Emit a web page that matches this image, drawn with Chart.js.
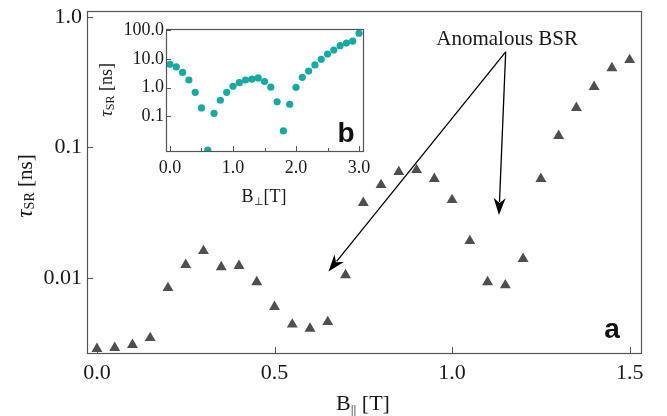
<!DOCTYPE html>
<html>
<head>
<meta charset="utf-8">
<script src="https://cdn.jsdelivr.net/npm/chart.js@4.4.0/dist/chart.umd.min.js"></script>
<style>
  html, body { margin: 0; padding: 0; background: #fff; }
  #wrap { position: relative; width: 667px; height: 416px; }
  #wrap canvas { position: absolute; left: 0; top: 0; }
</style>
</head>
<body>
<div id="wrap">
  <canvas id="mainChart" width="667" height="416"></canvas>
  <canvas id="insetChart" width="667" height="416"></canvas>
</div>
<script>
// Panel a: tau_SR vs in-plane field
const bParallel = [0.00, 0.05, 0.10, 0.15, 0.20, 0.25, 0.30, 0.35, 0.40, 0.45,
                   0.50, 0.55, 0.60, 0.65, 0.70, 0.75, 0.80, 0.85, 0.90, 0.95,
                   1.00, 1.05, 1.10, 1.15, 1.20, 1.25, 1.30, 1.35, 1.40, 1.45, 1.50];
const tauParallel = [0.00286, 0.00291, 0.00307, 0.00347, 0.00838, 0.0126, 0.0161, 0.0121, 0.0124, 0.0093,
                     0.0060, 0.0044, 0.0041, 0.0046, 0.0105, 0.0376, 0.0516, 0.0649, 0.0672, 0.0574,
                     0.0396, 0.0192, 0.0093, 0.0088, 0.0140, 0.0574, 0.1225, 0.201, 0.291, 0.406, 0.468];
const mainXTicks = [0.0, 0.5, 1.0, 1.5];
const mainYTicks = [0.01, 0.1, 1.0];

// Panel b (inset): tau_SR vs perpendicular field
const bPerp = [0.0, 0.1, 0.2, 0.3, 0.4, 0.5, 0.6, 0.7, 0.8, 0.9,
               1.0, 1.1, 1.2, 1.3, 1.4, 1.5, 1.6, 1.7, 1.8, 1.9,
               2.0, 2.1, 2.2, 2.3, 2.4, 2.5, 2.6, 2.7, 2.8, 2.9, 3.0];
const tauPerp = [6.5, 5.3, 3.4, 1.85, 0.69, 0.196, 0.0066, 0.128, 0.364, 0.69,
                 1.12, 1.49, 1.85, 2.0, 2.18, 1.64, 1.04, 0.32, 0.031, 0.264,
                 1.03, 2.3, 3.8, 6.2, 9.8, 14.9, 20.6, 29, 36, 42, 79];
const insetXTicks = [0, 1, 2, 3];
const insetXMinor = [0.5, 1.5, 2.5];
const insetYTicks = [0.1, 1, 10, 100];

// annotation: "Anomalous BSR" with two arrows (data coords)
const noteText = 'Anomalous BSR';
const noteAt = { x: 1.155, y: 0.60 };
const arrowFrom = { x: 1.151, y: 0.54 };
const arrowTips = [{ x: 0.652, y: 0.0112 }, { x: 1.132, y: 0.0304 }];

const SERIF = '"Liberation Serif", "Times New Roman", serif';
const SANS = '"Liberation Sans", Arial, sans-serif';
const INK = '#1a1a1a';
const FRAME = '#555';

function fixedTicks(values) {
    return function (scale) {
        scale.ticks = values.map(v => ({ value: v }));
    };
}

// fixed axis size, and no extra room for overhanging labels
function fitX(h) {
    return function (scale) {
        scale.height = h;
        scale.paddingLeft = 0; scale.paddingRight = 0;
        scale.paddingTop = 0; scale.paddingBottom = 0;
    };
}
function fitY(w) {
    return function (scale) {
        scale.width = w;
        scale.paddingLeft = 0; scale.paddingRight = 0;
        scale.paddingTop = 0; scale.paddingBottom = 0;
    };
}

function inwardTicks(chart, axis, values, len) {
    const ctx = chart.ctx, a = chart.chartArea, s = chart.scales[axis];
    ctx.save();
    ctx.strokeStyle = FRAME;
    ctx.lineWidth = 1;
    values.forEach(v => {
        const p = Math.round(s.getPixelForValue(v)) + 0.5;
        ctx.beginPath();
        if (axis === 'x') { ctx.moveTo(p, a.bottom); ctx.lineTo(p, a.bottom - len); }
        else { ctx.moveTo(a.left, p); ctx.lineTo(a.left + len, p); }
        ctx.stroke();
    });
    ctx.restore();
}

function frame(chart) {
    const ctx = chart.ctx, a = chart.chartArea;
    ctx.save();
    ctx.strokeStyle = FRAME;
    ctx.lineWidth = 1.2;
    ctx.strokeRect(Math.round(a.left) + 0.5, Math.round(a.top) + 0.5,
                   Math.round(a.right - a.left), Math.round(a.bottom - a.top));
    ctx.restore();
}

// text made of pieces (for subscripts), centred on x
function drawRich(ctx, parts, x, y, rotate) {
    ctx.save();
    ctx.translate(x, y);
    if (rotate) ctx.rotate(-Math.PI / 2);
    let total = 0;
    parts.forEach(p => { ctx.font = p.font; p.w = ctx.measureText(p.text).width; total += p.w; });
    let cx = -total / 2;
    ctx.textAlign = 'left';
    ctx.textBaseline = 'alphabetic';
    ctx.fillStyle = INK;
    parts.forEach(p => { ctx.font = p.font; ctx.fillText(p.text, cx, p.dy || 0); cx += p.w; });
    ctx.restore();
}

function arrow(ctx, x0, y0, x1, y1) {
    const ang = Math.atan2(y1 - y0, x1 - x0);
    const L = 17, W = 6;
    const bx = x1 - L * Math.cos(ang), by = y1 - L * Math.sin(ang);
    ctx.beginPath();
    ctx.moveTo(x0, y0);
    ctx.lineTo(bx + 4 * Math.cos(ang), by + 4 * Math.sin(ang));
    ctx.stroke();
    ctx.beginPath();
    ctx.moveTo(x1, y1);
    ctx.lineTo(bx + W * Math.sin(ang), by - W * Math.cos(ang));
    ctx.lineTo(bx + 5 * Math.cos(ang), by + 5 * Math.sin(ang));
    ctx.lineTo(bx - W * Math.sin(ang), by + W * Math.cos(ang));
    ctx.closePath();
    ctx.fill();
}

const mainDecor = {
    id: 'mainDecor',
    afterDraw(chart) {
        const ctx = chart.ctx, a = chart.chartArea;
        const sx = chart.scales.x, sy = chart.scales.y;
        frame(chart);
        inwardTicks(chart, 'x', mainXTicks, 6);
        inwardTicks(chart, 'y', mainYTicks, 6);

        // axis titles
        drawRich(ctx, [
            { text: 'B', font: '22px ' + SERIF },
            { text: '||', font: '14px ' + SERIF, dy: 5 },
            { text: ' [T]', font: '22px ' + SERIF }
        ], 363, 410);
        drawRich(ctx, [
            { text: 'τ', font: 'italic 23px ' + SERIF },
            { text: 'SR', font: '14px ' + SERIF, dy: 2 },
            { text: ' [ns]', font: '21px ' + SERIF }
        ], 32, 186, true);

        // annotation
        ctx.save();
        ctx.fillStyle = INK;
        ctx.font = '21px ' + SERIF;
        ctx.textAlign = 'center';
        ctx.fillText(noteText, sx.getPixelForValue(noteAt.x), 45);
        ctx.strokeStyle = '#000';
        ctx.fillStyle = '#000';
        ctx.lineWidth = 1.3;
        const x0 = sx.getPixelForValue(arrowFrom.x), y0 = sy.getPixelForValue(arrowFrom.y);
        arrowTips.forEach(t => arrow(ctx, x0, y0, sx.getPixelForValue(t.x), sy.getPixelForValue(t.y)));

        // panel letter
        ctx.font = 'bold 28px ' + SANS;
        ctx.fillStyle = '#111';
        ctx.fillText('a', a.right - 29, 338);
        ctx.restore();
    }
};

const insetDecor = {
    id: 'insetDecor',
    beforeDraw(chart) {
        const ctx = chart.ctx, a = chart.chartArea;
        ctx.save();
        ctx.fillStyle = '#fff';
        ctx.fillRect(a.left, a.top, a.right - a.left, a.bottom - a.top);
        ctx.restore();
    },
    afterDraw(chart) {
        const ctx = chart.ctx, a = chart.chartArea;
        frame(chart);
        inwardTicks(chart, 'x', insetXTicks, 5);
        inwardTicks(chart, 'x', insetXMinor, 3);
        inwardTicks(chart, 'y', insetYTicks, 5);

        drawRich(ctx, [
            { text: 'B', font: '18px ' + SERIF },
            { text: '⊥', font: '11px ' + SERIF, dy: 3 },
            { text: '[T]', font: '18px ' + SERIF }
        ], 264, 202);
        drawRich(ctx, [
            { text: 'τ', font: 'italic 19px ' + SERIF },
            { text: 'SR', font: '12px ' + SERIF, dy: 2 },
            { text: ' [ns]', font: '18px ' + SERIF }
        ], 112, 90, true);

        ctx.save();
        ctx.font = 'bold 28px ' + SANS;
        ctx.fillStyle = '#111';
        ctx.textAlign = 'center';
        ctx.fillText('b', a.right - 17, 142);
        ctx.restore();
    }
};

new Chart(document.getElementById('mainChart'), {
    type: 'scatter',
    data: {
        datasets: [{
            data: bParallel.map((b, i) => ({ x: b, y: tauParallel[i] })),
            pointStyle: 'triangle',
            pointRadius: 6.3,
            backgroundColor: '#4f4f4f',
            borderColor: '#4f4f4f',
            borderWidth: 0
        }]
    },
    options: {
        responsive: false,
        animation: false,
        devicePixelRatio: 1,
        layout: { padding: { left: 0, top: 11, right: 26, bottom: 0 } },
        plugins: { legend: { display: false }, tooltip: { enabled: false } },
        scales: {
            x: {
                type: 'linear',
                min: -0.028,
                max: 1.532,
                afterBuildTicks: fixedTicks(mainXTicks),
                afterFit: fitX(63),
                grid: { display: false, drawTicks: false },
                border: { display: false },
                ticks: {
                    padding: 7,
                    color: INK,
                    font: { family: SERIF, size: 22 },
                    callback: v => v.toFixed(1)
                }
            },
            y: {
                type: 'logarithmic',
                min: 0.00266,
                max: 1.11,
                afterBuildTicks: fixedTicks(mainYTicks),
                afterFit: fitY(87),
                grid: { display: false, drawTicks: false },
                border: { display: false },
                ticks: {
                    padding: 5,
                    color: INK,
                    font: { family: SERIF, size: 22 },
                    callback: v => (v >= 1 ? v.toFixed(1) : String(v))
                }
            }
        }
    },
    plugins: [mainDecor]
});

new Chart(document.getElementById('insetChart'), {
    type: 'scatter',
    data: {
        datasets: [{
            data: bPerp.map((b, i) => ({ x: b, y: tauPerp[i] })),
            pointStyle: 'circle',
            pointRadius: 3.6,
            backgroundColor: '#17aaa2',
            borderColor: '#17aaa2',
            borderWidth: 0
        }]
    },
    options: {
        responsive: false,
        animation: false,
        devicePixelRatio: 1,
        layout: { padding: { left: 106, top: 29, right: 304, bottom: 225 } },
        plugins: { legend: { display: false }, tooltip: { enabled: false } },
        scales: {
            x: {
                type: 'linear',
                min: -0.063,
                max: 3.063,
                afterBuildTicks: fixedTicks(insetXTicks),
                afterFit: fitX(40),
                grid: { display: false, drawTicks: false },
                border: { display: false },
                ticks: {
                    padding: 6,
                    color: INK,
                    font: { family: SERIF, size: 18 },
                    callback: v => v.toFixed(1)
                }
            },
            y: {
                type: 'logarithmic',
                min: 0.0062,
                max: 111,
                afterBuildTicks: fixedTicks(insetYTicks),
                afterFit: fitY(60),
                grid: { display: false, drawTicks: false },
                border: { display: false },
                ticks: {
                    padding: 2,
                    color: INK,
                    font: { family: SERIF, size: 18 },
                    callback: v => v.toFixed(1)
                }
            }
        }
    },
    plugins: [insetDecor]
});
</script>
</body>
</html>
